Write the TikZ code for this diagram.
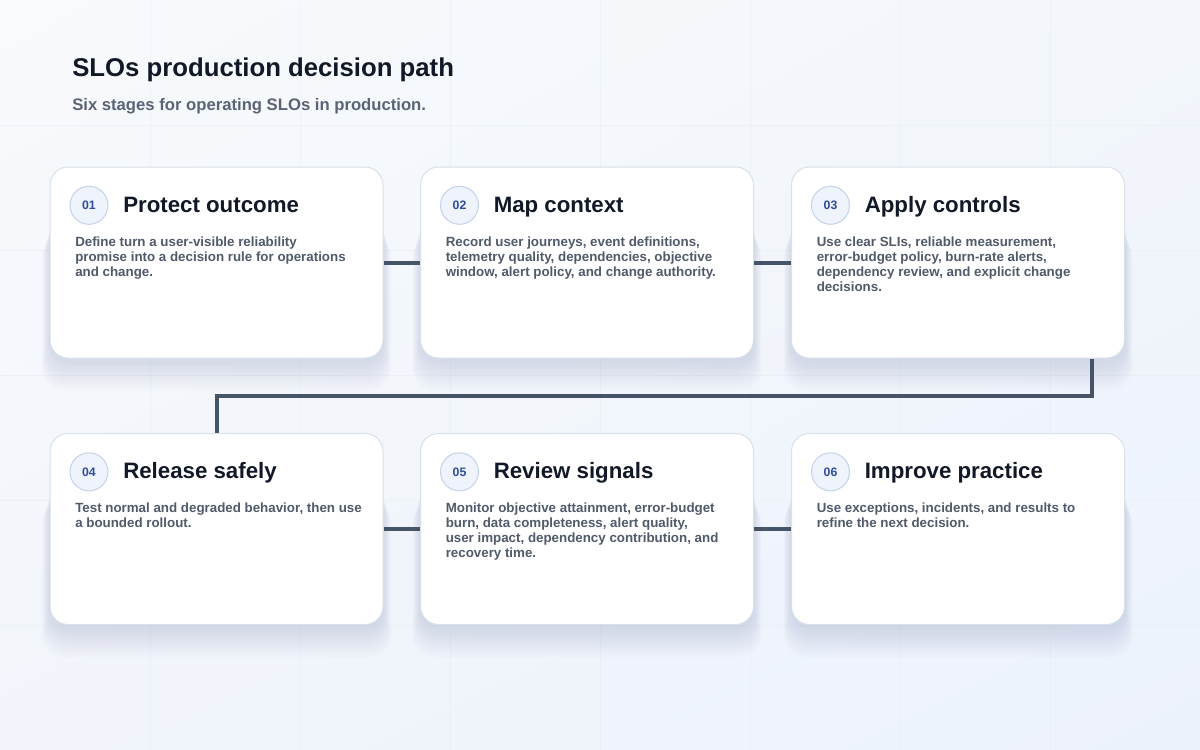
\documentclass[tikz,border=0pt]{standalone}
\usepackage{fontspec}
\setmainfont{Liberation Sans}
\usetikzlibrary{calc,shadings}

\definecolor{bgtl}{HTML}{F8FAFC}
\definecolor{bgtr}{HTML}{F2F6FB}
\definecolor{bgbl}{HTML}{F1F5FB}
\definecolor{bgbr}{HTML}{ECF2FC}
\definecolor{gridc}{HTML}{E2E8F0}
\definecolor{cardline}{HTML}{D8E0EB}
\definecolor{titlec}{HTML}{111827}
\definecolor{subc}{HTML}{5A6476}
\definecolor{bodyc}{HTML}{505A6B}
\definecolor{numfill}{HTML}{EEF3FC}
\definecolor{numline}{HTML}{C5D2EC}
\definecolor{numtext}{HTML}{2F4E9A}
\definecolor{linkc}{HTML}{465467}
\definecolor{shadowc}{HTML}{7A8AA8}

\begin{document}
\begin{tikzpicture}[x=0.75pt,y=-0.75pt,
    card/.style={draw=cardline, line width=0.75pt, fill=white, rounded corners=13.5pt,
      minimum width=249.75pt, minimum height=143.25pt, inner sep=0pt},
    badge/.style={circle, draw=numline, line width=0.75pt, fill=numfill, minimum size=28.5pt,
      inner sep=0pt, text=numtext, font=\fontsize{9.2}{9}\selectfont\bfseries},
    cardtitle/.style={anchor=base west, inner sep=0pt, text=titlec,
      font=\fontsize{16.7}{20}\selectfont\bfseries},
    cardtext/.style={anchor=north west, inner sep=0pt, align=left, text=bodyc,
      font=\fontsize{10}{11.25}\selectfont\bfseries},
    link/.style={draw=linkc, line width=3pt}]

    % page and background grid
    \useasboundingbox (0,0) rectangle (1200,750);
    \shade[upper left=bgtl, upper right=bgtr, lower left=bgbl, lower right=bgbr] (0,0) rectangle (1200,750);
    \foreach \gx in {150,300,...,1050}
        \draw[gridc, opacity=0.35, line width=0.75pt] (\gx,0) -- (\gx,750);
    \foreach \gy in {125,250,...,625}
        \draw[gridc, opacity=0.35, line width=0.75pt] (0,\gy) -- (1200,\gy);

    % heading
    \node[anchor=base west, inner sep=0pt, text=titlec, font=\fontsize{19.3}{23}\selectfont\bfseries]
        (title) at (72,76) {SLOs production decision path};
    \node[anchor=base west, inner sep=0pt, text=subc, font=\fontsize{12.5}{15}\selectfont\bfseries]
        (subtitle) at (72,110) {Six stages for operating SLOs in production.};

    % cards with soft shadow, badge, title and text
    \foreach \cx/\cy/\k/\ttl/\txt in {
        216.5/262.5/1/{Protect outcome}/{Define turn a user-visible reliability\\promise into a decision rule for operations\\and change.},
        587/262.5/2/{Map context}/{Record user journeys, event definitions,\\telemetry quality, dependencies, objective\\window, alert policy, and change authority.},
        958/262.5/3/{Apply controls}/{Use clear SLIs, reliable measurement,\\error-budget policy, burn-rate alerts,\\dependency review, and explicit change\\decisions.},
        216.5/529/4/{Release safely}/{Test normal and degraded behavior, then use\\a bounded rollout.},
        587/529/5/{Review signals}/{Monitor objective attainment, error-budget\\burn, data completeness, alert quality,\\user impact, dependency contribution, and\\recovery time.},
        958/529/6/{Improve practice}/{Use exceptions, incidents, and results to\\refine the next decision.}} {
        \foreach \s in {1,...,10}
            \fill[shadowc, opacity=0.024, rounded corners=16pt]
                ($(\cx,\cy)+(-166.5-0.8*\s,-50+2.5*\s)$) rectangle ($(\cx,\cy)+(166.5+0.8*\s,98+3*\s)$);
        \node[card] (card\k) at (\cx,\cy) {};
        \node[badge] (num\k) at ($(card\k.north west)+(39.5,38.8)$) {0\k};
        \node[cardtitle] (ttl\k) at ($(card\k.north west)+(73.5,45.8)$) {\ttl};
        \node[cardtext] (txt\k) at ($(card\k.north west)+(25.5,70)$) {\txt};
    }

    % connectors
    \draw[link] (card1) -- (card2);
    \draw[link] (card2) -- (card3);
    \coordinate (turn) at ($(card3.south east)+(-33,0)$);
    \draw[link] (turn) -- ++(0,37) -| (card4.north);
    \draw[link] (card4) -- (card5);
    \draw[link] (card5) -- (card6);
\end{tikzpicture}
\end{document}
